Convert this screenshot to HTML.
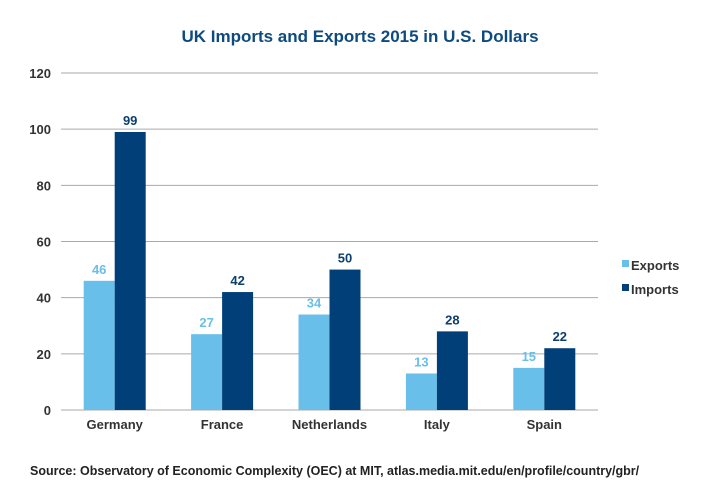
<!DOCTYPE html>
<html><head><meta charset="utf-8"><style>
body{margin:0;background:#fff;}
svg{display:block;font-family:"Liberation Sans",sans-serif;}
</style></head><body>
<svg id="chart" width="720" height="500" viewBox="0 0 720 500">
<text x="360" y="42" text-anchor="middle" font-size="17" font-weight="bold" fill="#0d4a80">UK Imports and Exports 2015 in U.S. Dollars</text>
<g id="grid"></g><g id="bars"></g>
<g>
<rect x="622" y="260" width="7" height="7" fill="#68bfea"/>
<text x="631" y="270" font-size="13" font-weight="bold" fill="#333">Exports</text>
<rect x="622" y="284" width="7" height="7" fill="#003f78"/>
<text x="631" y="294" font-size="13" font-weight="bold" fill="#333">Imports</text>
</g>
<text x="30" y="475" font-size="12.5" font-weight="bold" fill="#222">Source: Observatory of Economic Complexity (OEC) at MIT, atlas.media.mit.edu/en/profile/country/gbr/</text>
</svg>
<script>
const categories=["Germany","France","Netherlands","Italy","Spain"];
const exportsVals=[46,27,34,13,15];
const importsVals=[99,42,50,28,22];
const ticks=[0,20,40,60,80,100,120];
const NS="http://www.w3.org/2000/svg";
const x0=61,x1=598,y0=410,y1=73;
const y=v=>y0-(v/120)*(y0-y1);
const bw=(x1-x0)/categories.length;
const cx=i=>x0+bw*(i+0.5);
function mk(t,a,p){const e=document.createElementNS(NS,t);for(const k in a)e.setAttribute(k,a[k]);p.appendChild(e);return e;}
const g=document.getElementById('grid'),b=document.getElementById('bars');
ticks.forEach(t=>{
 const l=mk('line',{x1:x0,x2:x1,y1:y(t),y2:y(t),stroke:'#aaa','stroke-width':1},g);
 
 
 const tx=mk('text',{x:51,y:y(t)+5,'text-anchor':'end','font-size':13,'font-weight':'bold',fill:'#333'},g);
 tx.textContent=t;
 
 
});
categories.forEach((c,i)=>{
 const w=31;
 const r1=mk('rect',{x:cx(i)-w,y:y(exportsVals[i]),width:w,height:y0-y(exportsVals[i]),fill:'#68bfea'},b);
 
 
 const r2=mk('rect',{x:cx(i),y:y(importsVals[i]),width:w,height:y0-y(importsVals[i]),fill:'#003f78'},b);
 
 
 const t1=mk('text',{x:cx(i)-w/2,y:y(exportsVals[i])-7,'text-anchor':'middle','font-size':13,'font-weight':'bold',fill:'#68bfea'},b);
 t1.textContent=exportsVals[i];
 
 
 const t2=mk('text',{x:cx(i)+w/2,y:y(importsVals[i])-7,'text-anchor':'middle','font-size':13,'font-weight':'bold',fill:'#0d3f6e'},b);
 t2.textContent=importsVals[i];
 
 
 const cl=mk('text',{x:cx(i),y:429,'text-anchor':'middle','font-size':13,'font-weight':'bold',fill:'#333'},b);
 cl.textContent=c;
 
 
});
</script>
</body></html>
